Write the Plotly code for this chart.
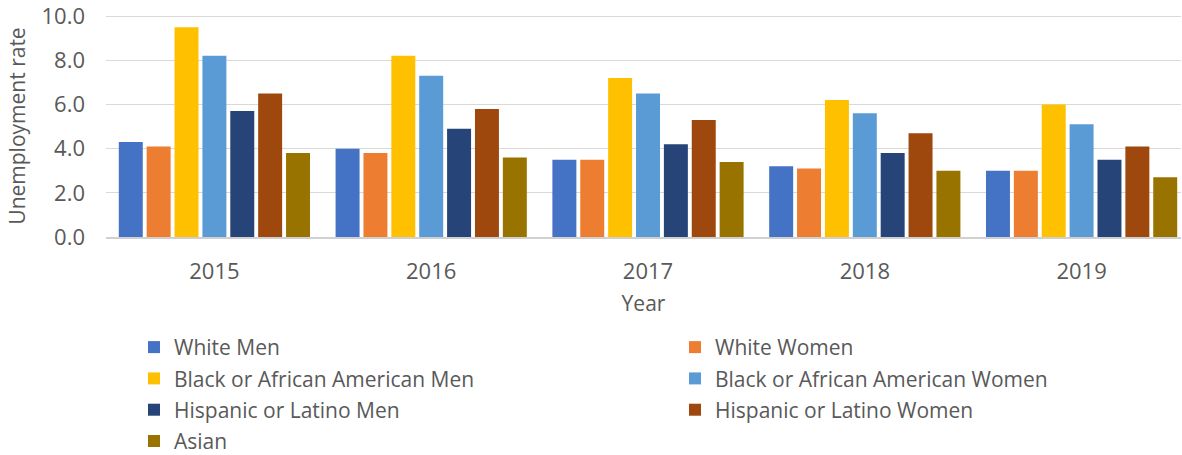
import plotly.graph_objects as go

years = ["2015", "2016", "2017", "2018", "2019"]
series_names = [
    "White Men", "White Women",
    "Black or African American Men", "Black or African American Women",
    "Hispanic or Latino Men", "Hispanic or Latino Women",
    "Asian",
]
white_men = [4.3, 4.0, 3.5, 3.2, 3.0]
white_women = [4.1, 3.8, 3.5, 3.1, 3.0]
black_men = [9.5, 8.2, 7.2, 6.2, 6.0]
black_women = [8.2, 7.3, 6.5, 5.6, 5.1]
hispanic_men = [5.7, 4.9, 4.2, 3.8, 3.5]
hispanic_women = [6.5, 5.8, 5.3, 4.7, 4.1]
asian = [3.8, 3.6, 3.4, 3.0, 2.7]
values = [white_men, white_women, black_men, black_women,
          hispanic_men, hispanic_women, asian]
colors = ["#4472C4", "#ED7D31", "#FFC000", "#5B9BD5",
          "#264478", "#9E480E", "#997300"]
legend_of = ["legend", "legend2", "legend", "legend2", "legend", "legend2", "legend"]
y_ticks = [0, 2, 4, 6, 8, 10]

FONT = "Open Sans"
TXT = "#595959"
FS = 21
TFS = 22

fig = go.Figure()
for name, vals, col, lg in zip(series_names, values, colors, legend_of):
    fig.add_trace(go.Bar(
        x=years, y=vals, name=name, legend=lg, legendgroup=name,
        marker=dict(color=col, line=dict(width=0)),
    ))

W, H = 1182, 455
YTOP = 10.05
ml, mr, mb = 106, 1, 218
mt = 16 - (YTOP - 10) * 22.1
pw = W - ml - mr
ph = H - mt - mb

def px_x(p):
    return (p - ml) / pw

def px_y(p):
    return (H - mb - p) / ph

leg_common = dict(
    orientation="v", yanchor="top", xanchor="left",
    font=dict(family=FONT, size=FS, color=TXT),
    tracegroupgap=1, bgcolor="rgba(0,0,0,0)", itemclick=False,
)

fig.update_layout(
    width=W, height=H,
    margin=dict(l=ml, r=mr, t=mt, b=mb, autoexpand=False),
    paper_bgcolor="white", plot_bgcolor="white",
    barmode="group", bargap=0.1, bargroupgap=0.14,
    font=dict(family=FONT, color=TXT, size=FS),
    legend=dict(x=px_x(134), y=px_y(327), **leg_common),
    legend2=dict(x=px_x(675), y=px_y(327), **leg_common),
    xaxis=dict(
        range=[-0.5, 4.5 - 9 / 216.75],
        showline=True, linecolor="#d0d0d0", linewidth=2,
        showgrid=False, ticks="",
        ticklabelstandoff=14,
        tickfont=dict(family=FONT, size=TFS, color=TXT),
        title=dict(text="Year", standoff=12,
                   font=dict(family=FONT, size=FS, color=TXT)),
    ),
    yaxis=dict(
        range=[0, YTOP], tickvals=y_ticks, tickformat=".1f",
        showgrid=True, gridcolor="#d9d9d9", gridwidth=1,
        zeroline=False, showline=False, ticks="",
        ticklabelstandoff=20, ticklabeloverflow="allow",
        tickfont=dict(family=FONT, size=TFS, color=TXT),
        title=dict(text="Unemployment rate", standoff=10,
                   font=dict(family=FONT, size=FS, color=TXT)),
    ),
)

fig.write_html(
    "out.html",
    config={"displayModeBar": False},
    post_script="document.body.style.margin='0';document.body.style.padding='0';",
)
